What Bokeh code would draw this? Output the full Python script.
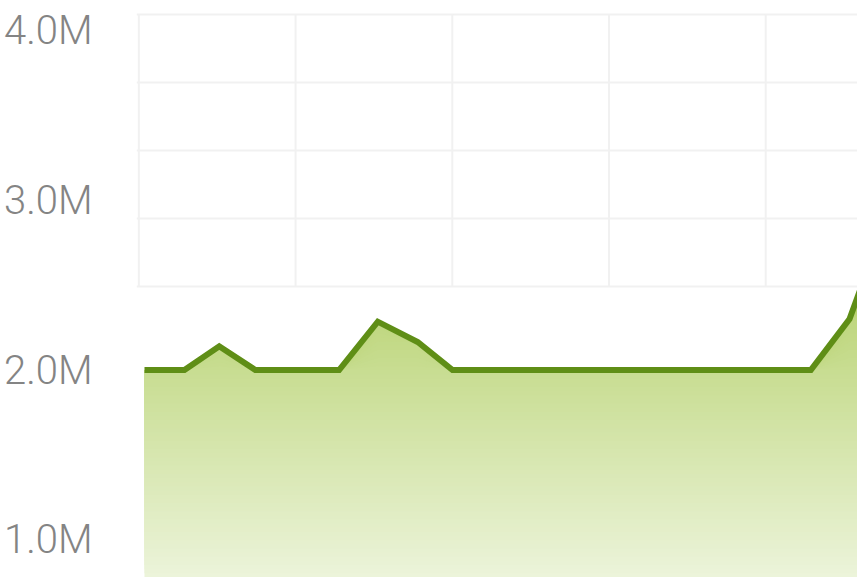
import numpy as np
from bokeh.plotting import figure
from bokeh.models import FixedTicker, Range1d
from bokeh.embed import file_html
from bokeh.resources import INLINE

# ---- data ----
day_offsets = [0, 31, 58, 86, 120, 151, 181, 212, 239, 273, 304, 334,
               365, 396, 425, 456, 486, 517, 547, 578]
values_m = [2.0, 2.0, 2.14, 2.0, 2.0, 2.0, 2.285, 2.165, 2.0, 2.0, 2.0, 2.0,
            2.0, 2.0, 2.0, 2.0, 2.0, 2.0, 2.3, 2.95]
y_ticks = [1000000, 2000000, 3000000, 4000000]
y_tick_labels = ["1.0M", "2.0M", "3.0M", "4.0M"]
grid_y = [2491000, 2892000, 3293000, 3694000, 4095000]
grid_x = [-4.4, 117.2, 238.8, 360.4, 482.0]

x = np.array(day_offsets, dtype=float)
y = np.array(values_m) * 1e6

Y0, Y1 = 0.7765e6, 4.108e6
p = figure(width=857, height=577, output_backend="svg", toolbar_location=None,
           x_range=Range1d(-6.2, 553.2), y_range=Range1d(Y0, Y1),
           x_axis_location=None,
           min_border_left=135, min_border_right=0, min_border_top=12, min_border_bottom=0)
p.outline_line_color = None
p.background_fill_color = "white"
p.border_fill_color = "white"

# grid
p.xgrid.visible = False
p.ygrid.ticker = FixedTicker(ticks=grid_y)
p.ygrid.grid_line_color = "#f1f1f1"
p.ygrid.grid_line_width = 2
p.segment(x0=grid_x, x1=grid_x, y0=[min(grid_y)] * len(grid_x), y1=[max(grid_y)] * len(grid_x),
          line_color="#f1f1f1", line_width=2)

# y axis
ax = p.yaxis[0]
ax.ticker = FixedTicker(ticks=y_ticks)
ax.major_label_overrides = {t: l for t, l in zip(y_ticks, y_tick_labels)}
ax.axis_line_color = None
ax.major_tick_line_color = None
ax.minor_tick_line_color = None
ax.major_tick_out = 0
ax.major_tick_in = 0
ax.major_label_text_font = "Roboto Light"
ax.major_label_text_font_size = "40px"
ax.major_label_text_color = "#848484"
ax.major_label_standoff = 44

# gradient area: stacked bands
def area_color(v):
    top = np.array([0xc8, 0xdd, 0x91], dtype=float)   # at 2.0M
    bot = np.array([0xec, 0xf4, 0xda], dtype=float)   # at frame bottom
    t = (v - Y0) / (2.0e6 - Y0)
    c = bot + (top - bot) * t
    c = np.clip(c, 0, 255).astype(int)
    return "#%02x%02x%02x" % tuple(c)

levels = np.linspace(Y0, y.max(), 90)
for lv in levels:
    p.varea(x=x, y1=np.minimum(lv, y), y2=y, fill_color=area_color(lv), fill_alpha=1.0)

p.line(x, y, line_color="#5f8e16", line_width=6, line_join="miter")

open("out.html", "w").write(file_html(p, INLINE))
